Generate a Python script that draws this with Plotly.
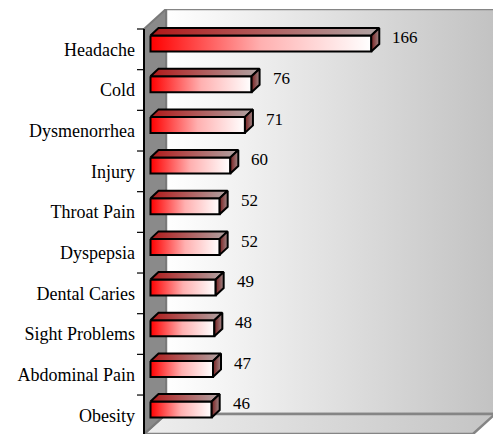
import plotly.graph_objects as go

categories = ["Headache", "Cold", "Dysmenorrhea", "Injury", "Throat Pain",
              "Dyspepsia", "Dental Caries", "Sight Problems", "Abdominal Pain", "Obesity"]
values = [166, 76, 71, 60, 52, 52, 49, 48, 47, 46]

OFF = 8                 # page body margin in the browser
W, H = 501 - OFF, 434 - OFF
L, R, T, B = 134 - OFF, 3, 9 - OFF, 0
PX_PER_UNIT = 1.33      # horizontal scale (px per value unit)
ZERO_PX = 150.5 - OFF   # pixel column of value 0 on bar front faces
BAND_PX = 40.67         # pixel height of a category band
TOP_TICK_PX = 29 - OFF  # pixel row of first category boundary
TICK_LEN_PX = 7

x_min = (L - ZERO_PX) / PX_PER_UNIT
x_max = (W - R - ZERO_PX) / PX_PER_UNIT


def y_of_px(p):
    return (p - TOP_TICK_PX) / BAND_PX - 0.5


y_top = y_of_px(T)
y_bot = y_of_px(H - B)

# 3D styling constants (in axis units)
bar_off = -5.8 / BAND_PX
bar_half = 8.0 / BAND_PX
bar_dx = 8.0 / PX_PER_UNIT
bar_dy = -7.5 / BAND_PX
wall_front_x = (144 - OFF - ZERO_PX) / PX_PER_UNIT
wall_dx = 22.0 / PX_PER_UNIT
wall_dy = -20.0 / BAND_PX
wall_back_x = wall_front_x + wall_dx
wall_top_front = -0.5
wall_back_right = (495 - OFF - ZERO_PX) / PX_PER_UNIT
tick_len = TICK_LEN_PX / PX_PER_UNIT

fig = go.Figure()

# back wall
fig.add_trace(go.Scatter(
    x=[wall_back_x, wall_back_right, wall_back_right, wall_back_x, wall_back_x],
    y=[wall_top_front + wall_dy, wall_top_front + wall_dy, y_bot + wall_dy, y_bot + wall_dy, wall_top_front + wall_dy],
    mode="lines", fill="toself", line=dict(color="#858585", width=2.5),
    fillgradient=dict(type="horizontal", colorscale=[[0, "#ffffff"], [1, "#c2c2c2"]]),
    hoverinfo="skip"))
# floor
fig.add_trace(go.Scatter(
    x=[wall_front_x, wall_back_right - wall_dx, wall_back_right, wall_back_x, wall_front_x],
    y=[y_bot, y_bot, y_bot + wall_dy, y_bot + wall_dy, y_bot],
    mode="lines", fill="toself", line=dict(color="#858585", width=2.5),
    fillgradient=dict(type="horizontal", colorscale=[[0, "#eeeeee"], [1, "#c4c4c4"]]),
    hoverinfo="skip"))
# left wall
fig.add_trace(go.Scatter(
    x=[wall_front_x, wall_back_x, wall_back_x, wall_front_x, wall_front_x],
    y=[wall_top_front, wall_top_front + wall_dy, y_bot + wall_dy, y_bot, wall_top_front],
    mode="lines", fill="toself", fillcolor="#8a8a8a", line=dict(color="#7a7a7a", width=2),
    hoverinfo="skip"))
# front edge (axis line)
fig.add_trace(go.Scatter(
    x=[wall_front_x, wall_front_x], y=[wall_top_front, y_bot],
    mode="lines", line=dict(color="black", width=2), hoverinfo="skip"))
# category boundary ticks
tick_x, tick_y = [], []
for k in range(len(categories) + 1):
    tick_x += [wall_front_x - tick_len, wall_front_x, None]
    tick_y += [k - 0.5, k - 0.5, None]
fig.add_trace(go.Scatter(x=tick_x, y=tick_y, mode="lines",
                         line=dict(color="black", width=1.2), hoverinfo="skip"))

# bars
for i, v in enumerate(values):
    yc = i + bar_off
    yt = yc - bar_half
    yb = yc + bar_half
    # front face
    fig.add_trace(go.Scatter(
        x=[0, v, v, 0, 0], y=[yt, yt, yb, yb, yt],
        mode="lines", fill="toself", line=dict(color="black", width=2),
        fillgradient=dict(type="horizontal",
                          colorscale=[[0, "#ff0000"], [0.5, "#ffb0b0"], [1, "#ffffff"]]),
        hoverinfo="skip"))
    # top face
    fig.add_trace(go.Scatter(
        x=[0, v, v + bar_dx, bar_dx, 0], y=[yt, yt, yt + bar_dy, yt + bar_dy, yt],
        mode="lines", fill="toself", line=dict(color="black", width=2),
        fillgradient=dict(type="horizontal",
                          colorscale=[[0, "#b01818"], [1, "#b0a4a4"]]),
        hoverinfo="skip"))
    # side face
    fig.add_trace(go.Scatter(
        x=[v, v + bar_dx, v + bar_dx, v, v],
        y=[yt, yt + bar_dy, yb + bar_dy, yb, yt],
        mode="lines", fill="toself", line=dict(color="black", width=2),
        fillgradient=dict(type="horizontal",
                          colorscale=[[0, "#7a2020"], [1, "#a08888"]]),
        hoverinfo="skip"))

annotations = []
for i, v in enumerate(values):
    annotations.append(dict(
        x=v, y=i, xref="x", yref="y", text=str(v), showarrow=False,
        xanchor="left", yanchor="middle", xshift=19, yshift=11.5,
        font=dict(family="Liberation Serif", size=17, color="black")))

axis_pos = (144 - OFF - L) / (W - L - R)

fig.update_layout(
    width=W, height=H,
    margin=dict(l=L, r=R, t=T, b=B, pad=0),
    paper_bgcolor="white", plot_bgcolor="rgba(0,0,0,0)",
    showlegend=False,
    xaxis=dict(range=[x_min, x_max], visible=False, fixedrange=True),
    yaxis=dict(range=[y_bot, y_top], tickmode="array",
               tickvals=list(range(len(categories))), ticktext=categories,
               ticks="", showgrid=False, zeroline=False, showline=False,
               anchor="free", position=axis_pos, ticklabelstandoff=9,
               tickfont=dict(family="Liberation Serif", size=18, color="black")),
    annotations=annotations,
)

fig.write_html("out.html")
